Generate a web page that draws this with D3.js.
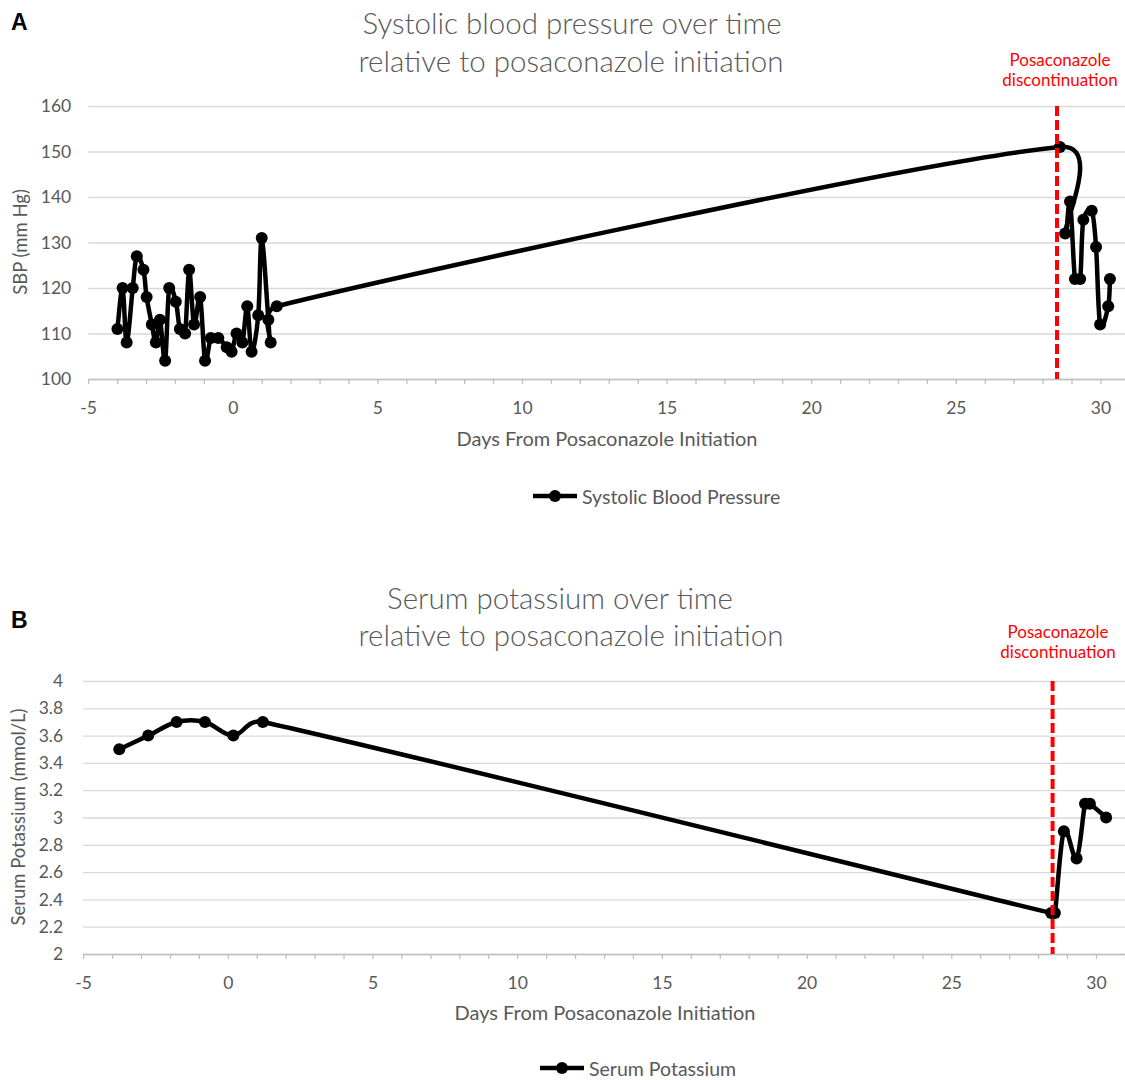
<!DOCTYPE html>
<html>
<head>
<meta charset="utf-8">
<script src="https://cdn.jsdelivr.net/npm/d3@7"></script>
<style>
  body { margin: 0; background: #fff; }
  svg text { font-family: Lato, "Open Sans", sans-serif; }
</style>
</head>
<body>
<div id="chart"></div>
<script>
// Panel A: systolic blood pressure
const sbpDays = [-3.99, -3.81, -3.67, -3.46, -3.32, -3.09, -2.98, -2.80, -2.66, -2.52, -2.34,
  -2.20, -1.97, -1.83, -1.65, -1.51, -1.34, -1.13, -0.96, -0.76, -0.50, -0.21, -0.04,
  0.13, 0.33, 0.50, 0.65, 0.88, 1.00, 1.23, 1.31, 1.52,
  28.60, 28.78, 28.95, 29.12, 29.30, 29.41, 29.70, 29.85, 29.99, 30.27, 30.33];
const sbpValues = [111, 120, 108, 120, 127, 124, 118, 112, 108, 113, 104,
  120, 117, 111, 110, 124, 112, 118, 104, 109, 109, 107, 106,
  110, 108, 116, 106, 114, 131, 113, 108, 116,
  151, 132, 139, 122, 122, 135, 137, 129, 112, 116, 122];

// Panel B: serum potassium
const kDays = [-3.75, -2.75, -1.77, -0.79, 0.19, 1.21, 28.45, 28.58, 28.89, 29.33, 29.62, 29.79, 30.35];
const kValues = [3.5, 3.6, 3.7, 3.7, 3.6, 3.7, 2.3, 2.3, 2.9, 2.7, 3.1, 3.1, 3.0];

const discontinuationDay = 28.5;
const xTickLabels = [-5, 0, 5, 10, 15, 20, 25, 30];
const sbpTicks = [100, 110, 120, 130, 140, 150, 160];
const kTicks = [2, 2.2, 2.4, 2.6, 2.8, 3, 3.2, 3.4, 3.6, 3.8, 4];

const W = 1125, H = 1080;
const grey = "#595959";

const svg = d3.select("#chart").append("svg")
  .attr("width", W)
  .attr("height", H);

// spreadsheet-style smoothed line: bezier segments whose handles are
// capped at half of the segment length
function smoothPath(p) {
  const path = d3.path();
  const dist = (a, b) => Math.hypot(b[0] - a[0], b[1] - a[1]);
  path.moveTo(p[0][0], p[0][1]);
  for (let i = 0; i < p.length - 1; i++) {
    const p0 = p[Math.max(i - 1, 0)], p1 = p[i], p2 = p[i + 1], p3 = p[Math.min(i + 2, p.length - 1)];
    const d12 = dist(p1, p2), d02 = dist(p0, p2), d13 = dist(p1, p3);
    let f1 = 1 / 6, f2 = 1 / 6;
    if (d02 / 6 > d12 / 2) f1 = d12 / 2 / d02;
    if (d13 / 6 > d12 / 2) f2 = d12 / 2 / d13;
    path.bezierCurveTo(
      p1[0] + (p2[0] - p0[0]) * f1, p1[1] + (p2[1] - p0[1]) * f1,
      p2[0] - (p3[0] - p1[0]) * f2, p2[1] - (p3[1] - p1[1]) * f2,
      p2[0], p2[1]);
  }
  return path.toString();
}

function drawPanel(cfg) {
  const g = svg.append("g");
  const x = d3.scaleLinear().domain([-5, 31]).range(cfg.xRange);
  const y = d3.scaleLinear().domain(cfg.yDomain).range(cfg.yRange);

  // panel letter
  g.append("text")
    .attr("x", 11).attr("y", cfg.letterY)
    .attr("dominant-baseline", "central")
    .style("font-family", "'Liberation Sans', Arial, sans-serif")
    .style("font-weight", "bold")
    .style("font-size", "23px")
    .text(cfg.letter);

  // title
  cfg.title.forEach((t, i) => {
    g.append("text")
      .attr("x", cfg.titleX[i]).attr("y", cfg.titleY[i])
      .attr("text-anchor", "middle")
      .attr("dominant-baseline", "central")
      .style("font-size", "29.5px")
      .style("font-weight", 300)
      .style("fill", grey)
      .text(t);
  });

  // gridlines + y labels
  const yAxis = g.append("g")
    .attr("transform", `translate(${cfg.xRange[0]},0)`)
    .call(d3.axisLeft(y)
      .tickValues(cfg.yTicks)
      .tickSize(-(W - cfg.xRange[0]))
      .tickPadding(cfg.yPad)
      .tickFormat(d => String(+d.toFixed(1))));
  yAxis.select(".domain").remove();
  yAxis.selectAll(".tick line").attr("stroke", "#d9d9d9").attr("stroke-width", 1.3);
  yAxis.selectAll(".tick text")
    .style("font-size", "17.5px")
    .style("fill", grey)
    .style("font-family", "Lato, sans-serif");

  // x axis with a tick every day
  const xAxis = g.append("g")
    .attr("transform", `translate(0,${cfg.yRange[0]})`)
    .call(d3.axisBottom(x)
      .tickValues(d3.range(-5, 32))
      .tickSize(5)
      .tickSizeOuter(0)
      .tickPadding(18)
      .tickFormat(d => xTickLabels.includes(d) ? String(d) : ""));
  xAxis.select(".domain").attr("stroke", "#bfbfbf").attr("stroke-width", 1.3);
  xAxis.selectAll(".tick line").attr("stroke", "#bfbfbf").attr("stroke-width", 1.3);
  xAxis.selectAll(".tick text")
    .style("font-size", "17.5px")
    .style("fill", grey)
    .style("font-family", "Lato, sans-serif");

  // axis titles
  g.append("text")
    .attr("x", cfg.xTitlePos[0]).attr("y", cfg.xTitlePos[1])
    .attr("text-anchor", "middle")
    .attr("dominant-baseline", "central")
    .style("font-size", "20px")
    .style("fill", grey)
    .text("Days From Posaconazole Initiation");

  g.append("text")
    .attr("transform", `translate(${cfg.yTitlePos[0]},${cfg.yTitlePos[1]}) rotate(-90)`)
    .attr("text-anchor", "middle")
    .attr("dominant-baseline", "central")
    .style("font-size", "18.5px")
    .style("fill", grey)
    .text(cfg.yTitle);

  // series line and markers
  const pts = cfg.days.map((d, i) => [d, cfg.values[i]]);
  g.append("path")
    .attr("fill", "none")
    .attr("stroke", "#000")
    .attr("stroke-width", 4.5)
    .attr("stroke-linejoin", "round")
    .attr("d", smoothPath(pts.map(d => [x(d[0]), y(d[1])])));

  g.selectAll("circle.pt")
    .data(pts)
    .enter()
    .append("circle")
    .attr("class", "pt")
    .attr("cx", d => x(d[0]))
    .attr("cy", d => y(d[1]))
    .attr("r", 6)
    .attr("fill", "#000");

  // discontinuation marker
  g.append("line")
    .attr("x1", x(discontinuationDay)).attr("x2", x(discontinuationDay))
    .attr("y1", cfg.yRange[1]).attr("y2", cfg.yRange[0])
    .attr("stroke", "#ff0000")
    .attr("stroke-width", 4)
    .attr("stroke-dasharray", "10,4");

  ["Posaconazole", "discontinuation"].forEach((t, i) => {
    g.append("text")
      .attr("x", cfg.redX).attr("y", cfg.redY + i * 20.5)
      .attr("text-anchor", "middle")
      .attr("dominant-baseline", "central")
      .style("font-size", "17px")
      .style("fill", "#ff0000")
      .text(t);
  });

  // legend
  const lg = g.append("g").attr("transform", `translate(${cfg.legend[0]},${cfg.legend[1]})`);
  lg.append("line")
    .attr("x1", 0).attr("x2", 44)
    .attr("stroke", "#000").attr("stroke-width", 4.5);
  lg.append("circle").attr("cx", 22).attr("r", 6).attr("fill", "#000");
  lg.append("text")
    .attr("x", 49)
    .attr("dominant-baseline", "central")
    .style("font-size", "19.5px")
    .style("fill", grey)
    .text(cfg.legendLabel);
}

drawPanel({
  letter: "A", letterY: 22,
  title: ["Systolic blood pressure over time", "relative to posaconazole initiation"],
  titleX: [572, 571], titleY: [22, 60],
  xRange: [88.2, 88.2 + 36 * 28.92],
  yDomain: [100, 160], yRange: [379, 106],
  yTicks: sbpTicks, yPad: 17,
  xTitlePos: [607, 438],
  yTitle: "SBP (mm Hg)", yTitlePos: [20, 242],
  days: sbpDays, values: sbpValues,
  redX: 1060, redY: 59,
  legend: [533, 496], legendLabel: "Systolic Blood Pressure"
});

drawPanel({
  letter: "B", letterY: 620,
  title: ["Serum potassium over time", "relative to posaconazole initiation"],
  titleX: [560, 571], titleY: [597, 634],
  xRange: [83.1, 83.1 + 36 * 28.94],
  yDomain: [2, 4], yRange: [954, 681],
  yTicks: kTicks, yPad: 20,
  xTitlePos: [605, 1012],
  yTitle: "Serum Potassium (mmol/L)", yTitlePos: [18, 817],
  days: kDays, values: kValues,
  redX: 1058, redY: 631,
  legend: [540, 1068], legendLabel: "Serum Potassium"
});
</script>
</body>
</html>
